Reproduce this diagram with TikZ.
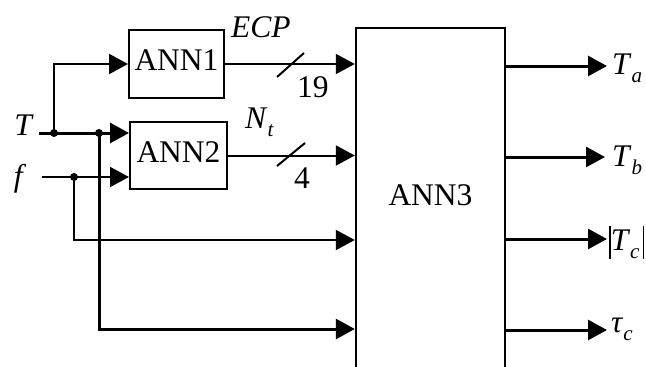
\documentclass[tikz,border=0pt]{standalone}
\usepackage{fontspec}
\setmainfont{Liberation Serif}
\usetikzlibrary{arrows.meta}
\newcommand{\sbx}[1]{\raisebox{-0.26em}{\fontsize{21}{21}\selectfont\textit{#1}}}
\tikzset{
  box/.style={draw, line width=2pt, inner sep=0pt, text depth=7pt, font=\fontsize{31.5}{33}\selectfont},
  ln/.style={line width=2pt},
  thk/.style={line width=3pt},
  arr/.style={-{Triangle[length=19pt,width=20pt]}},
  jdot/.style={circle, fill, inner sep=0pt, minimum size=8pt},
  lab/.style={inner sep=0pt, font=\fontsize{31.5}{33}\selectfont},
}
\begin{document}
\begin{tikzpicture}[x=1pt,y=-1pt]
\useasboundingbox (0,0) rectangle (646,367);
\clip (0,0) rectangle (646,367);
% blocks
\node[box, minimum width=95pt, minimum height=68pt] (ann1) at (176.5,64) {ANN1};
\node[box, minimum width=97pt, minimum height=67pt] (ann2) at (178.5,155.5) {ANN2};
\node[draw, line width=2.4pt, minimum width=149pt, minimum height=400pt, inner sep=0pt] (ann3) at (430.5,228) {};
\node[lab, anchor=base] (ann3lab) at (430.5,205) {ANN3};
% input labels
\node[lab, anchor=base] (tlab) at (24,135) {\textit{T}};
\node[lab, anchor=base] (flab) at (20,186) {\textit{f}};
\coordinate (tstart) at (39,133);
\coordinate (fstart) at (42,177);
\coordinate (y3) at (0,240);
\coordinate (y4) at (0,329);
\node[jdot] (j1) at (54,133) {};
\node[jdot] (j2) at (99,133) {};
\node[jdot] (j3) at (74,177) {};
% connectors
\draw[thk,arr] (tstart) -- (ann2.west |- tstart);
\draw[ln,arr] (j1.center) |- (ann1.west);
\draw[ln,arr] (fstart) -- (ann2.west |- fstart);
\draw[ln,arr] (j3.center) |- (ann3.west |- y3);
\draw[thk,arr] (j2.center) |- (ann3.west |- y4);
\draw[ln,arr] (ann1.east) -- (ann3.west |- ann1.east);
\draw[ln,arr] (ann2.east) -- (ann3.west |- ann2.east);
% bus slashes
\draw[ln] (277,77) -- (304,53);
\draw[ln] (277,166) -- (305,143);
% bus labels
\node[lab, anchor=base west] (ecp) at (231,37) {\textit{ECP}};
\node[lab, anchor=base west] (nt) at (245,128) {\textit{N}\sbx{t}};
\node[lab, anchor=base west] (n19) at (297,97) {19};
\node[lab, anchor=base west] (n4) at (294,188) {4};
% outputs
\coordinate (o1) at (607,66);
\coordinate (o2) at (605,157);
\coordinate (o3) at (607,239);
\coordinate (o4) at (607,330);
\draw[thk,arr] (ann3.east |- o1) -- (o1);
\draw[thk,arr] (ann3.east |- o2) -- (o2);
\draw[thk,arr] (ann3.east |- o3) -- (o3);
\draw[thk,arr] (ann3.east |- o4) -- (o4);
\node[lab, anchor=base west] (ta) at (612,74) {\textit{T}\sbx{a}};
\node[lab, anchor=base west] (tb) at (612,166) {\textit{T}\sbx{b}};
\node[lab, anchor=base west] (tc) at (609,250) {\rule[-0.3em]{1.6pt}{1.05em}\textit{T}\sbx{c}\hspace{3pt}\rule[-0.3em]{1.6pt}{1.05em}};
\node[lab, anchor=base west] (tau) at (611,332) {\textit{τ}\sbx{c}};
\end{tikzpicture}
\end{document}
